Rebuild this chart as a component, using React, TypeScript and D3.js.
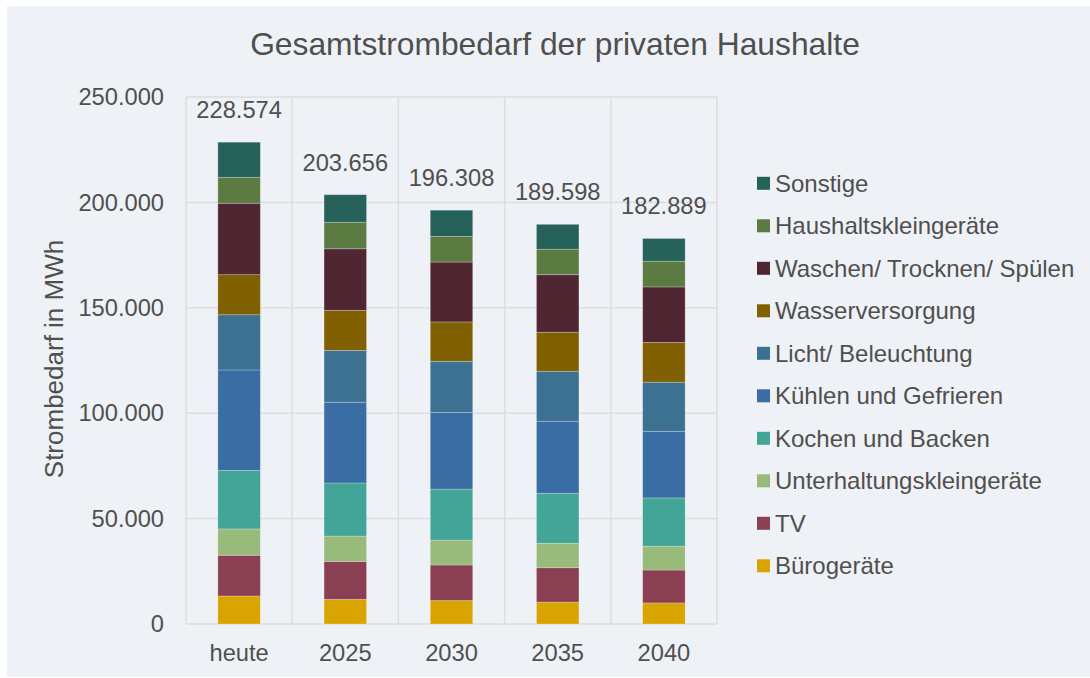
import React from "react";
import * as d3 from "d3";

const categories = ["heute", "2025", "2030", "2035", "2040"];

const seriesNames = [
  "Bürogeräte",
  "TV",
  "Unterhaltungskleingeräte",
  "Kochen und Backen",
  "Kühlen und Gefrieren",
  "Licht/ Beleuchtung",
  "Wasserversorgung",
  "Waschen/ Trocknen/ Spülen",
  "Haushaltskleingeräte",
  "Sonstige",
];

const seriesColors = [
  "#D9A300",
  "#8A3F53",
  "#98BB7C",
  "#43A597",
  "#3A6DA3",
  "#3D7191",
  "#806000",
  "#512633",
  "#5B7B43",
  "#26625A",
];

const bueroValues = [13300, 11700, 11100, 10400, 10000];
const tvValues = [19300, 18000, 16900, 16300, 15600];
const unterhaltungValues = [12500, 12000, 11800, 11600, 11300];
const kochenValues = [27800, 25200, 24200, 23700, 22900];
const kuehlenValues = [47600, 38300, 36400, 34200, 31600];
const lichtValues = [26200, 24600, 24200, 23700, 23300];
const wasserValues = [19000, 19000, 18700, 18500, 18900];
const waschenValues = [33900, 29200, 28400, 27300, 26300];
const haushaltValues = [12300, 12600, 12200, 12100, 12200];
const sonstigeValues = [16674, 13056, 12408, 11798, 10789];

const yTicks = [0, 50000, 100000, 150000, 200000, 250000];

const allSeries = [
  bueroValues,
  tvValues,
  unterhaltungValues,
  kochenValues,
  kuehlenValues,
  lichtValues,
  wasserValues,
  waschenValues,
  haushaltValues,
  sonstigeValues,
];

const deLocale = d3.formatLocale({
  decimal: ",",
  thousands: ".",
  grouping: [3],
  currency: ["", " €"],
});
const fmt = deLocale.format(",d");

const W = 1090;
const H = 678;
const FONT = "'Liberation Sans', Arial, Helvetica, sans-serif";
const TEXT = "#4F4F4F";
const GRID = "#DCDDE0";

export default function App() {
  const rows = categories.map((c, i) => {
    const r: any = { cat: c };
    seriesNames.forEach((s, k) => {
      r[s] = allSeries[k][i];
    });
    return r;
  });
  const stacked = d3.stack<any>().keys(seriesNames)(rows);
  const totals = categories.map((_, i) => d3.sum(allSeries, (s) => s[i]));

  const x = d3
    .scaleBand<string>()
    .domain(categories)
    .range([186, 717])
    .paddingInner(0.6)
    .paddingOuter(0.3);
  const y = d3.scaleLinear().domain([0, 250000]).range([624, 97]);

  const step = x.step();
  const left = x.range()[0];
  const right = x.range()[1];

  const legendOrder = seriesNames.map((_, i) => seriesNames.length - 1 - i);

  return (
    <div style={{ position: "absolute", left: 0, top: 0 }}>
      <svg width={W} height={H} style={{ display: "block" }} fontFamily={FONT}>
        <rect x={0} y={0} width={W} height={H} fill="#FFFFFF" />
        <rect x={7} y={6} width={W - 7} height={H - 7} fill="#EEF2F6" />

        <text
          x={555}
          y={55}
          textAnchor="middle"
          fontSize={31.8}
          fill={TEXT}
        >
          Gesamtstrombedarf der privaten Haushalte
        </text>

        {/* gridlines */}
        {yTicks.map((t) => (
          <line
            key={"h" + t}
            x1={left}
            x2={right}
            y1={y(t)}
            y2={y(t)}
            stroke={GRID}
            strokeWidth={1.5}
          />
        ))}
        {d3.range(categories.length + 1).map((i) => (
          <line
            key={"v" + i}
            x1={left + i * step}
            x2={left + i * step}
            y1={y(250000)}
            y2={y(0)}
            stroke={GRID}
            strokeWidth={1.5}
          />
        ))}

        {/* bars */}
        {stacked.map((layer, k) => (
          <g key={layer.key} fill={seriesColors[k]}>
            {layer.map((d, i) => (
              <rect
                key={i}
                x={x(categories[i])}
                width={x.bandwidth()}
                y={y(d[1])}
                height={y(d[0]) - y(d[1])}
                stroke="rgba(255,255,255,0.3)"
                strokeWidth={0.8}
              />
            ))}
          </g>
        ))}

        {/* totals */}
        {totals.map((t, i) => (
          <text
            key={"t" + i}
            x={(x(categories[i]) as number) + x.bandwidth() / 2}
            y={y(t) - 24}
            textAnchor="middle"
            fontSize={23.7}
            fill={TEXT}
          >
            {fmt(t)}
          </text>
        ))}

        {/* y tick labels */}
        {yTicks.map((t) => (
          <text
            key={"yl" + t}
            x={164}
            y={y(t)}
            dy="0.35em"
            textAnchor="end"
            fontSize={23.7}
            fill={TEXT}
          >
            {fmt(t)}
          </text>
        ))}

        {/* x labels */}
        {categories.map((c) => (
          <text
            key={"xl" + c}
            x={(x(c) as number) + x.bandwidth() / 2}
            y={661}
            textAnchor="middle"
            fontSize={23.7}
            fill={TEXT}
          >
            {c}
          </text>
        ))}

        {/* y axis title */}
        <text
          transform={`translate(63,359) rotate(-90)`}
          textAnchor="middle"
          fontSize={26}
          fill={TEXT}
        >
          Strombedarf in MWh
        </text>

        {/* legend */}
        {legendOrder.map((k, i) => {
          const cy = 183.3 + i * 42.5;
          return (
            <g key={"lg" + k}>
              <rect x={757} y={cy - 6.5} width={13} height={13} fill={seriesColors[k]} />
              <text x={775} y={cy} dy="0.35em" fontSize={24} fill={TEXT}>
                {seriesNames[k]}
              </text>
            </g>
          );
        })}
      </svg>
    </div>
  );
}
